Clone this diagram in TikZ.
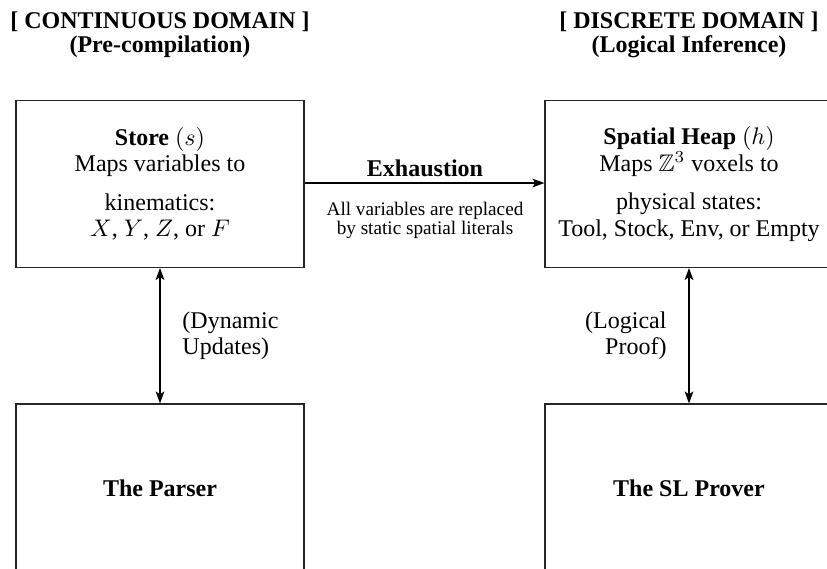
\documentclass[tikz,border=0pt]{standalone}
\usepackage{amssymb}
\usepackage{fontspec}
\setmainfont{Liberation Serif}
\usetikzlibrary{arrows.meta}
\begin{document}
\begin{tikzpicture}[x=0.41667pt,y=-0.41667pt,
  box/.style={draw=black!85, line width=0.45pt, minimum width=120pt, minimum height=69.5pt, inner sep=0pt, align=center, font={\fontsize{10}{11}\selectfont}},
  conn/.style={line width=0.8pt, -{Stealth[length=5pt,width=3.6pt,inset=1.2pt]}},
  biconn/.style={line width=0.8pt, {Stealth[length=5pt,width=3.6pt,inset=1.2pt]}-{Stealth[length=5pt,width=3.6pt,inset=1.2pt]}},
  head/.style={align=center, font={\fontsize{10}{10}\selectfont\bfseries}},
  lbl/.style={font={\fontsize{10}{11}\selectfont}}]
\useasboundingbox (0,0) rectangle (827,568);
\clip (0,0) rectangle (827,568);
\node[head] (hl) at (160,35) {[ CONTINUOUS DOMAIN ]\\(Pre-compilation)};
\node[head] (hr) at (689,35) {[ DISCRETE DOMAIN ]\\(Logical Inference)};
\node[box] (store) at (160,184) {\textbf{Store} $(s)$\\Maps variables to\\[5pt]kinematics:\\$X$, $Y$, $Z$, or $F$};
\node[box] (heap) at (689,184) {\textbf{Spatial Heap} $(h)$\\Maps $\mathbb{Z}^3$ voxels to\\[5pt]physical states:\\Tool, Stock, Env, or Empty};
\node[box, minimum height=70pt] (parser) at (160,488) {\textbf{The Parser}};
\node[box, minimum height=70pt] (prover) at (689,488) {\textbf{The SL Prover}};
\draw[conn] (store.east |- 0,183) coordinate (ea) -- (heap.west |- ea);
\node[font=\bfseries] (ex) at (425,168) {Exhaustion};
\node[align=center, font={\fontsize{8}{7.9}\selectfont}] (exs) at (425,220) {All variables are replaced\\by static spatial literals};
\draw[biconn] (store) -- (parser);
\draw[biconn] (heap) -- (prover);
\node[lbl, align=left, anchor=west] (du) at (174,336) {(Dynamic\\Updates)};
\node[lbl, align=right, anchor=east] (lp) at (675,336) {(Logical\\Proof)};
\end{tikzpicture}
\end{document}
